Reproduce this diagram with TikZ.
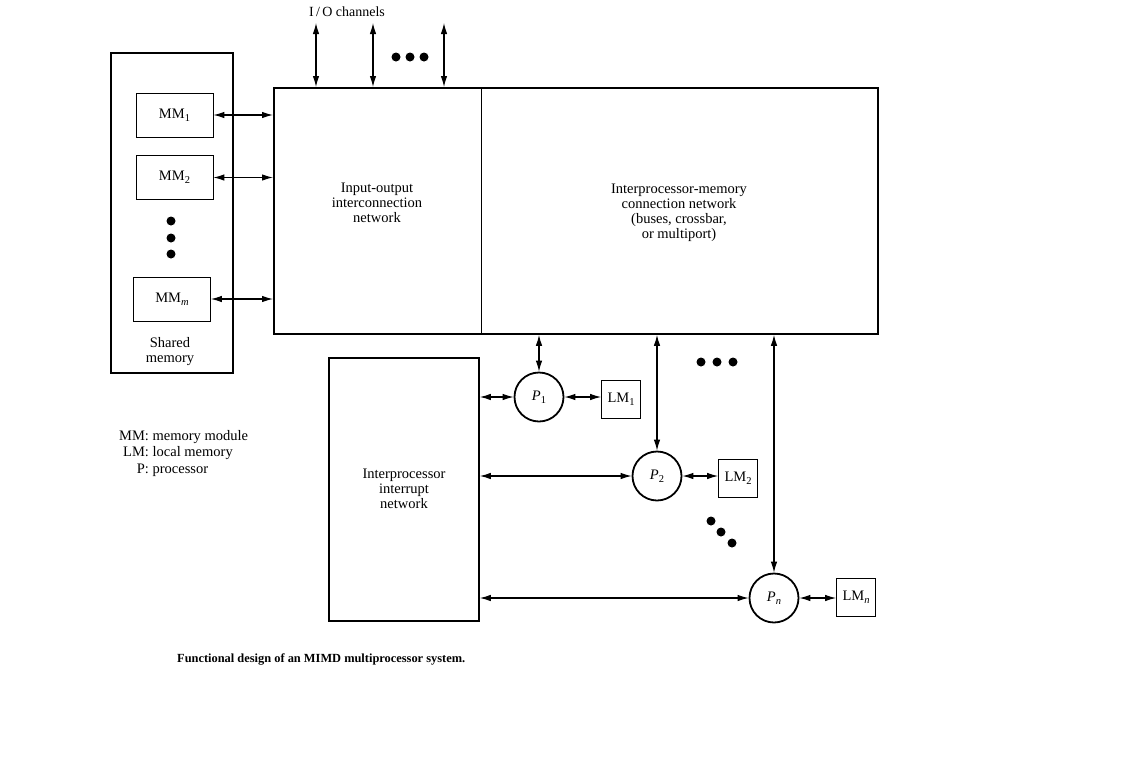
\documentclass[tikz,border=0pt]{standalone}
\usepackage{fontspec}
\setmainfont{Liberation Serif}
\usetikzlibrary{arrows.meta}
% text subscript set a little below the baseline
\newcommand{\lowsub}[1]{\raisebox{-0.4ex}{\fontsize{10.5}{10.5}\selectfont #1}}
\begin{document}
\begin{tikzpicture}[x=1pt,y=-1pt,
  thickbox/.style={draw,line width=1.8pt},
  modbox/.style={draw,line width=0.8pt,minimum width=77pt,minimum height=44pt,font=\fontsize{14.5}{15}\selectfont},
  lmbox/.style={draw,line width=0.8pt,minimum width=39pt,minimum height=38pt,inner sep=1pt,font=\fontsize{14.5}{15}\selectfont},
  proc/.style={circle,draw,line width=1.8pt,minimum size=49pt,inner sep=0pt,font=\fontsize{14.5}{15}\selectfont},
  link/.style={line width=1.1pt,{Latex[length=11pt,width=6.5pt]}-{Latex[length=11pt,width=6.5pt]}},
  lbl/.style={align=center,font=\fontsize{14.5}{15}\selectfont},
  dot/.style={circle,fill,inner sep=0pt,minimum size=9pt}]
\useasboundingbox (0,0) rectangle (1130,774);

% shared memory
\draw[thickbox] (111,53) rectangle (233,373);
\node[modbox] (mm1) at (174.5,115) {MM\lowsub{1}};
\node[modbox] (mm2) at (174.5,177.5) {MM\lowsub{2}};
\node[modbox] (mmm) at (172,299) {MM\lowsub{\textit{m}}};
\node[dot] (d1) at (171,221) {};
\node[dot] (d2) at (171,238) {};
\node[dot] (d3) at (171,254) {};
\node[lbl] (sh) at (170,352) {Shared\\memory};

% interconnection networks
\node[thickbox,minimum width=604pt,minimum height=246pt,anchor=north west,inner sep=0pt] (big) at (273,87) {};
\draw[line width=0.7pt] (481,87) -- (481,333);
\node[lbl] (ionet) at (377,203) {Input-output\\interconnection\\network};
\node[lbl] (imnet) at (679,213) {Interprocessor-memory\\connection network\\(buses, crossbar,\\or multiport)};

\foreach \m in {mm1,mm2,mmm}
  \draw[link] (\m.east) -- (big.west |- \m.east);

% I/O channels
\node[font=\fontsize{14}{15}\selectfont] (io) at (347,12) {I\,/\,O channels};
\coordinate (c1) at (316,23);
\coordinate (c2) at (373,23);
\coordinate (c3) at (444,23);
\draw[link] (c1) -- (c1 |- big.north);
\draw[link] (c2) -- (c2 |- big.north);
\draw[link] (c3) -- (c3 |- big.north);
\node[dot] (t1) at (396,57) {};
\node[dot] (t2) at (410,57) {};
\node[dot] (t3) at (424,57) {};

% interrupt network
\node[thickbox,minimum width=150pt,minimum height=263pt,anchor=north west,inner sep=0pt] (irq) at (328,357) {};
\node[lbl] (irqt) at (404,489) {Interprocessor\\interrupt\\network};

% processors and local memories
\node[proc] (p1) at (539,397) {\textit{P}\lowsub{1}};
\node[lmbox] (lm1) at (621,399) {LM\lowsub{1}};
\node[proc] (p2) at (657,476) {\textit{P}\lowsub{2}};
\node[lmbox] (lm2) at (738,478) {LM\lowsub{2}};
\node[proc] (pn) at (774,598) {\textit{P}\lowsub{\textit{n}}};
\node[lmbox] (lmn) at (856,597) {LM\lowsub{\textit{n}}};

\draw[link] (p1.east) -- (lm1.west |- p1.east);
\draw[link] (p2.east) -- (lm2.west |- p2.east);
\draw[link] (pn.east) -- (lmn.west |- pn.east);

\draw[link] (p1.north) -- (p1.north |- big.south);
\draw[link] (p2.north) -- (p2.north |- big.south);
\draw[link] (pn.north) -- (pn.north |- big.south);

\draw[link] (irq.east |- p1.west) -- (p1.west);
\draw[link] (irq.east |- p2.west) -- (p2.west);
\draw[link] (irq.east |- pn.west) -- (pn.west);

\node[dot] (e1) at (701,362) {};
\node[dot] (e2) at (717,362) {};
\node[dot] (e3) at (733,362) {};
\node[dot] (f1) at (711,521) {};
\node[dot] (f2) at (721,532) {};
\node[dot] (f3) at (732,543) {};

% legend and caption
\node[anchor=base west,font=\fontsize{14.5}{16.5}\selectfont,inner sep=0pt] (legend) at (119,440)
  {\begin{tabular}[t]{@{}r@{: }l@{}}MM&memory module\\LM&local memory\\P&processor\end{tabular}};
\node[anchor=west,font=\bfseries\fontsize{12.4}{14}\selectfont,inner sep=0pt] (cap) at (177,659)
  {Functional design of an MIMD multiprocessor system.};
\end{tikzpicture}
\end{document}
